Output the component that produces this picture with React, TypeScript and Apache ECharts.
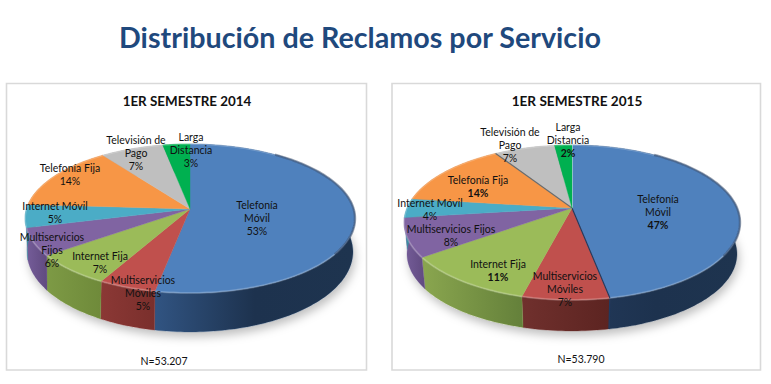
import React, { useEffect, useRef } from "react";
import * as echarts from "echarts";

const mainTitle = "Distribución de Reclamos por Servicio";
const panelTitles = ["1ER SEMESTRE 2014", "1ER SEMESTRE 2015"];
const footnotes = ["N=53.207", "N=53.790"];
const categories = [
  "Telefonía Móvil", "Multiservicios Móviles", "Internet Fija", "Multiservicios Fijos",
  "Internet Móvil", "Telefonía Fija", "Televisión de Pago", "Larga Distancia",
];
const values2014 = [53, 5, 7, 6, 5, 14, 7, 3];
const values2015 = [47, 7, 11, 8, 4, 14, 7, 2];

const COLORS = ["#4f81bd", "#c0504d", "#9bbb59", "#8064a2", "#4bacc6", "#f79646", "#bfbfbf", "#00b050"];
const FONT = "Lato, Carlito, Calibri, sans-serif";

const labelLines2014 = [
  ["Telefonía", "Móvil"], ["Multiservicios", "Móviles"], ["Internet Fija"], ["Multiservicios", "Fijos"],
  ["Internet Móvil"], ["Telefonía Fija"], ["Televisión de", "Pago"], ["Larga", "Distancia"],
];
const labelLines2015 = [
  ["Telefonía", "Móvil"], ["Multiservicios", "Móviles"], ["Internet Fija"], ["Multiservicios Fijos"],
  ["Internet Móvil"], ["Telefonía Fija"], ["Televisión de", "Pago"], ["Larga", "Distancia"],
];
// label anchor: x centre, y of first line centre
const labelPos2014 = [[257, 205], [143, 279.5], [100, 256], [52, 237], [55, 206], [70, 168], [136, 139.5], [191, 137]];
const labelPos2015 = [[658, 199], [565, 276], [498, 263.5], [451, 228.5], [430, 202.5], [478, 179.5], [510, 132], [568, 127]];
const boldPct2015 = [true, false, true, false, false, true, false, true];

const purpleWall = ["#755d99", "#604a80"];
const wall2014 = [
  ["#315482", "#1d324e", "#1e344f"], ["#8b3835", "#7a2f2c"], ["#7d9a45", "#6f8a3a"], purpleWall,
  ["#3f90a6", "#367f93"], ["#c97a38", "#c97a38"], ["#9a9a9a", "#9a9a9a"], ["#008a3f", "#008a3f"],
];
const wall2015 = [
  ["#22395a", "#1d324e", "#1e344f"], ["#70302d", "#5c2421"], ["#8aa64f", "#64803a"], purpleWall,
  ["#3f90a6", "#367f93"], ["#c97a38", "#c97a38"], ["#9a9a9a", "#9a9a9a"], ["#008a3f", "#008a3f"],
];
// separator drawn at the start of a slice (top face), and down its wall
const edges2014: (string | null)[] = [null, null, null, null, null, null, null, null];
const edges2015: (string | null)[] = ["#ffffff", "#1f3a5f", null, null, null, null, "#6b6b6b", null];

type Disc = { cx: number; apex: number; a: number; c: number; k: number };
// projective mapping of a circle: top face and bottom face of each 3D pie
function disc(cx: number, back: number, apex: number, front: number, halfWidth: number): Disc {
  const c = (apex - back - (front - apex)) / (front - back);
  const a = apex - back * (1 - c);
  return { cx, apex, a, c, k: halfWidth * Math.sqrt(1 - c * c) };
}
const pies = [
  {
    values: values2014, lines: labelLines2014, pos: labelPos2014, wall: wall2014, bold: values2014.map(() => false),
    top: disc(190, 144, 209, 293, 165), bottom: disc(190, 172, 240, 332, 163), edges: edges2014,
  },
  {
    values: values2015, lines: labelLines2015, pos: labelPos2015, wall: wall2015, bold: boldPct2015,
    top: disc(572, 145, 208, 300, 168), bottom: disc(572, 177, 240, 331, 165), edges: edges2015,
  },
];

function project(d: Disc, theta: number): number[] {
  const yp = -Math.cos(theta);
  const den = 1 + d.c * yp;
  return [d.cx + (d.k * Math.sin(theta)) / den, (d.a * yp + d.apex) / den];
}
function arc(d: Disc, from: number, to: number): number[][] {
  const n = Math.max(2, Math.ceil((to - from) / 0.02));
  const out: number[][] = [];
  for (let i = 0; i <= n; i++) out.push(project(d, from + ((to - from) * i) / n));
  return out;
}
const toAngle = (pct: number) => (pct / 100) * Math.PI * 2;
const DEG = Math.PI / 180;

function cumulate(vals: number[]): number[][] {
  let s = 0;
  return vals.map((v) => {
    const row = [v, s];
    s += v;
    return row;
  });
}
function gradient(stops: string[]) {
  return {
    type: "linear", x: 0, y: 0, x2: 1, y2: 0,
    colorStops: stops.map((color, i) => ({ offset: i / (stops.length - 1), color })),
  };
}

function pieSeries(p: (typeof pies)[number], idx: number): any[] {
  const data = cumulate(p.values);
  const shadow = {
    type: "custom", coordinateSystem: "none", silent: true, z: 1, data: [[0]],
    renderItem: () => ({
      type: "polygon",
      shape: { points: arc(p.bottom, 0, Math.PI * 2) },
      style: { fill: "#eeeeee", shadowBlur: 10, shadowColor: "rgba(0,0,0,0.25)", shadowOffsetX: 2, shadowOffsetY: 5 },
    }),
  };
  const walls = {
    type: "custom", coordinateSystem: "none", silent: true, z: 2, data,
    renderItem: (params: any, api: any) => {
      const i = params.dataIndex;
      const from = toAngle(api.value(1));
      const to = toAngle(api.value(1) + api.value(0));
      const pts = [...arc(p.top, from, to), ...arc(p.bottom, from, to).reverse()];
      const stops = p.wall[i];
      const edge = p.edges[i];
      const children: any[] = [
        { type: "polygon", shape: { points: pts }, style: { fill: gradient(stops), stroke: stops[0], lineWidth: 0.3 } },
      ];
      if (edge && i > 0) {
        children.push({
          type: "polyline", shape: { points: [project(p.top, from), project(p.bottom, from)] },
          style: { fill: "none", stroke: edge, lineWidth: 1.4 },
        });
      }
      return { type: "group", children };
    },
  };
  const faces = {
    type: "custom", coordinateSystem: "none", silent: true, z: 3, data,
    renderItem: (params: any, api: any) => {
      const i = params.dataIndex;
      const from = toAngle(api.value(1));
      const to = toAngle(api.value(1) + api.value(0));
      const rim = arc(p.top, from, to);
      const fill = COLORS[i];
      const apex = [p.top.cx, p.top.apex];
      const children: any[] = [
        { type: "polygon", shape: { points: [apex, ...rim] }, style: { fill, stroke: fill, lineWidth: 0.4 } },
        {
          type: "polyline", shape: { points: rim },
          style: { fill: "none", stroke: "rgba(255,255,255,0.2)", lineWidth: 2 },
        },
      ];
      const a0 = Math.max(from, 35 * DEG);
      const a1 = Math.min(to, 125 * DEG);
      if (a1 > a0) {
        children.push({
          type: "polyline", shape: { points: arc(p.top, a0, a1) },
          style: { fill: "none", stroke: "rgba(30,50,85,0.45)", lineWidth: 2.4 },
        });
      }
      if (p.edges[i]) {
        children.push({
          type: "polyline", shape: { points: [rim[0], apex] },
          style: { fill: "none", stroke: p.edges[i], lineWidth: 1.1 },
        });
      }
      return { type: "group", children };
    },
  };
  const labels = {
    type: "custom", coordinateSystem: "none", silent: true, z: 5, data,
    renderItem: (params: any, api: any) => {
      const i = params.dataIndex;
      const [x, y0] = p.pos[i];
      const rows = [...p.lines[i], `${api.value(0)}%`];
      return {
        type: "group",
        children: rows.map((text, r) => ({
          type: "text",
          style: {
            text, x, y: y0 + r * 13.2,
            textAlign: "center", textVerticalAlign: "middle",
            fill: "#111", font: `${r === rows.length - 1 && p.bold[i] ? "bold " : ""}10.5px ${FONT}`,
          },
        })),
      };
    },
  };
  return [shadow, walls, faces, labels].map((s, k) => ({ ...s, name: `${panelTitles[idx]} ${k}`, id: `p${idx}s${k}` }));
}

export default function App() {
  const ref = useRef<HTMLDivElement>(null);
  useEffect(() => {
    const chart = echarts.init(ref.current!, null, { renderer: "svg" });
    const panel = (x: number, w: number) => ({
      type: "rect", z: 0, shape: { x, y: 83.5, width: w, height: 286.5 },
      style: { fill: "#fff", stroke: "#d9d9d9", lineWidth: 1.6 },
    });
    const text = (t: string, x: number, y: number, font: string, fill: string) => ({
      type: "text", z: 10, style: { text: t, x, y, textAlign: "center", textVerticalAlign: "middle", font, fill },
    });
    chart.setOption({
      animation: false,
      backgroundColor: "#fff",
      graphic: [
        panel(6.5, 360),
        panel(392, 368.5),
        text(mainTitle, 360, 37, `bold 28.7px ${FONT}`, "#1f497d"),
        text(panelTitles[0], 187, 101, `bold 13.4px ${FONT}`, "#111"),
        text(panelTitles[1], 577, 101, `bold 13.6px ${FONT}`, "#111"),
        text(footnotes[0], 164, 361, `10.5px ${FONT}`, "#111"),
        text(footnotes[1], 581, 359, `10.5px ${FONT}`, "#111"),
      ],
      series: pies.flatMap((p, i) => pieSeries(p, i)),
    });
    return () => chart.dispose();
  }, []);
  return <div ref={ref} style={{ position: "absolute", left: 0, top: 0, width: 771, height: 384 }} aria-label={categories.join(", ")} />;
}
